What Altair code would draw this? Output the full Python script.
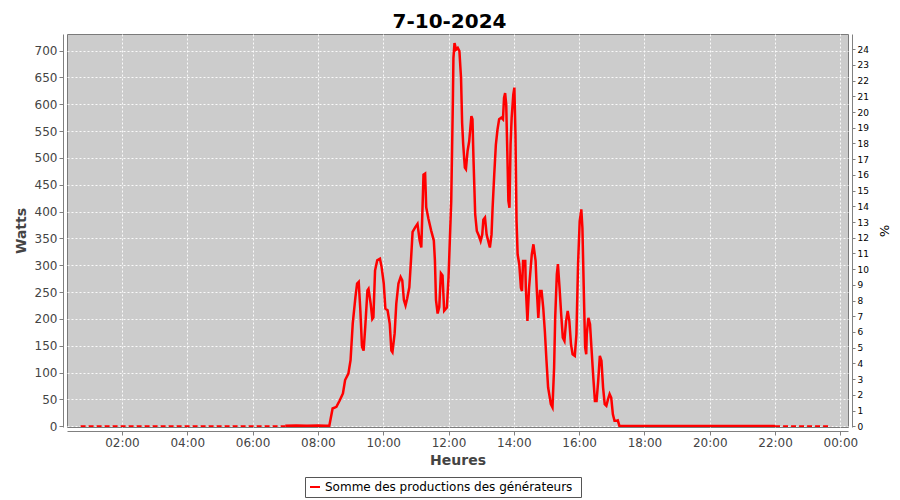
import altair as alt
import pandas as pd

TITLE = "7-10-2024"
DAY = "2024-10-07"
SERIES_NAME = "Somme des productions des  générateurs"

# night (dashed) parts of the series
night_am_times = ["00:44", "07:00"]
night_am_watts = [0, 0]
night_pm_times = ["22:00", "23:43"]
night_pm_watts = [0, 0]

# daytime part of the series (Watts)
day_times = [
    "07:00", "07:20", "07:40", "08:00", "08:15", "08:21", "08:27", "08:34", "08:40", "08:46",
    "08:50", "08:56", "09:00", "09:04", "09:09", "09:12", "09:15", "09:18", "09:21", "09:24",
    "09:27", "09:31", "09:33", "09:37", "09:40", "09:42", "09:45", "09:49", "09:54", "09:57",
    "10:01", "10:04", "10:08", "10:12", "10:15", "10:17", "10:21", "10:24", "10:28", "10:32",
    "10:35", "10:38", "10:41", "10:44", "10:48", "10:51", "10:54", "10:59", "11:03", "11:07",
    "11:10", "11:13", "11:14", "11:17", "11:19", "11:23", "11:28", "11:33", "11:35", "11:37",
    "11:40", "11:43", "11:46", "11:49", "11:52", "11:57", "12:00", "12:05", "12:08", "12:09",
    "12:11", "12:14", "12:17", "12:20", "12:23", "12:25", "12:27", "12:30", "12:32", "12:35",
    "12:38", "12:42", "12:44", "12:46", "12:49", "12:52", "12:55", "12:59", "13:02", "13:04",
    "13:07", "13:10", "13:13", "13:16", "13:19", "13:21", "13:24", "13:27", "13:30", "13:33",
    "13:37", "13:40", "13:42", "13:44", "13:46", "13:48", "13:50", "13:52", "13:54", "13:56",
    "13:59", "14:01", "14:03", "14:05", "14:07", "14:10", "14:13", "14:15", "14:17", "14:21",
    "14:22", "14:25", "14:28", "14:33", "14:36", "14:40", "14:42", "14:45", "14:48", "14:51",
    "14:54", "14:57", "15:00", "15:03", "15:05", "15:08", "15:11", "15:14", "15:16", "15:19",
    "15:21", "15:24", "15:27", "15:30", "15:33", "15:36", "15:39", "15:42", "15:45", "15:48",
    "15:52", "15:55", "15:58", "16:01", "16:04", "16:06", "16:09", "16:11", "16:13", "16:14",
    "16:17", "16:20", "16:23", "16:26", "16:29", "16:32", "16:35", "16:38", "16:41", "16:44",
    "16:47", "16:50", "16:53", "16:56", "16:59", "17:02", "17:05", "17:08", "17:11", "17:14",
    "22:00",
]
day_watts = [
    1, 1.5, 1, 1.5, 1, 1, 33, 36, 48, 61,
    86, 98, 123, 191, 241, 266, 269, 216, 148, 141,
    185, 253, 256, 228, 200, 203, 290, 309, 312, 297,
    266, 219, 216, 191, 141, 138, 173, 228, 266, 278,
    272, 235, 225, 238, 259, 309, 362, 371, 377, 346,
    333, 433, 469, 471, 408, 387, 365, 346, 309, 235,
    210, 222, 285, 281, 215, 221, 277, 420, 606, 686,
    714, 702, 705, 699, 649, 565, 525, 482, 479, 513,
    531, 578, 572, 494, 395, 364, 357, 345, 357, 385,
    389, 357, 345, 333, 357, 407, 469, 525, 553, 572,
    575, 572, 612, 621, 600, 513, 420, 407, 525, 575,
    618, 631, 544, 382, 320, 302, 258, 252, 308, 308,
    258, 196, 258, 320, 339, 308, 258, 202, 252, 252,
    221, 177, 122, 72, 60, 41, 35, 109, 202, 283,
    302, 258, 209, 165, 159, 196, 215, 196, 153, 134,
    131, 171, 302, 382, 404, 370, 233, 147, 134, 171,
    202, 190, 140, 91, 47, 47, 84, 131, 122, 72,
    41, 38, 50, 60, 53, 22, 10, 10, 11, 0.5,
    0.5,
]

watts_ticks = list(range(0, 701, 50))
pct_ticks = list(range(0, 25))
hour_ticks = list(range(2, 25, 2))
watts_domain = [-1.5, 731]
pct_domain = [-0.05, 24.97]


def ts(hhmm):
    return f"{DAY}T{hhmm}:00"


day_df = pd.DataFrame({"t": [ts(t) for t in day_times], "w": day_watts,
                       "serie": SERIES_NAME})
night_df = pd.DataFrame({
    "t": [ts(t) for t in night_am_times + night_pm_times],
    "w": night_am_watts + night_pm_watts,
    "part": ["matin"] * len(night_am_times) + ["soir"] * len(night_pm_times),
    "serie": SERIES_NAME,
})
pct_df = pd.DataFrame({"pct": [pct_ticks[0], pct_ticks[-1]]})

FONT = "DejaVu Sans"


def dt(day, h, m=0):
    return alt.DateTime(year=2024, month=10, date=day, hours=h, minutes=m)


x_enc = alt.X(
    "t:T",
    title="Heures",
    scale=alt.Scale(domain=[dt(7, 0, 19), dt(8, 0, 14)]),
    axis=alt.Axis(format="%H:%M",
                  values=[dt(7, h) if h < 24 else dt(8, 0) for h in hour_ticks],
                  offset=4, tickSize=4, labelPadding=2, titlePadding=5,
                  grid=True, labelFontSize=12, titleFontSize=14),
)

y_enc = alt.Y("w:Q", title="Watts",
              scale=alt.Scale(domain=watts_domain, nice=False, zero=False),
              axis=alt.Axis(values=watts_ticks, orient="left", offset=4, tickSize=4,
                            labelPadding=2, titlePadding=6, grid=True,
                            labelFontSize=12, titleFontSize=14))

color_enc = alt.Color("serie:N", scale=alt.Scale(range=["#ff0000"]),
                      legend=alt.Legend(title=None, orient="none", legendX=238, legendY=443,
                                        symbolType="stroke", symbolStrokeWidth=2,
                                        labelFontSize=12, labelFont=FONT, labelLimit=500,
                                        labelColor="#000000", strokeColor="#555555",
                                        fillColor="#ffffff", padding=4))

day_line = alt.Chart(day_df).mark_line(strokeWidth=2.5, clip=True).encode(
    x=x_enc, y=y_enc, color=color_enc,
)
night_line = alt.Chart(night_df).mark_line(strokeWidth=2, strokeDash=[5, 3], clip=True).encode(
    x=x_enc, y=y_enc, color=color_enc, detail="part:N",
)

right = alt.Chart(pct_df).mark_point(opacity=0).encode(
    y=alt.Y("pct:Q", title="%",
            scale=alt.Scale(domain=pct_domain, nice=False, zero=False),
            axis=alt.Axis(values=pct_ticks, orient="right", offset=4, tickSize=3,
                          labelPadding=2, titlePadding=8, grid=False,
                          labelFontSize=9, titleFontSize=13, labelColor="#000000",
                          titleColor="#000000", titleFontWeight="normal")),
)

chart = alt.layer(alt.layer(night_line, day_line), right).resolve_scale(
    y="independent"
).properties(
    width=781,
    height=393,
    padding={"left": 59, "top": 26, "right": 44, "bottom": 73},
    autosize=alt.AutoSizeParams(type="none"),
    title=alt.TitleParams(TITLE, font=FONT, fontSize=20, fontWeight="bold",
                          color="#000000", anchor="middle", offset=2, dx=-8),
).configure_view(
    fill="#cccccc", stroke="#7a7a7a", strokeWidth=1,
).configure_axis(
    domainColor="#808080", tickColor="#808080", labelColor="#444444",
    titleColor="#444444", labelFont=FONT, titleFont=FONT, titleFontWeight="bold",
    gridColor="#ffffff", gridDash=[2, 2], gridOpacity=0.9, gridWidth=1,
)

chart.save("out.html", embed_options={"renderer": "svg", "actions": False})
